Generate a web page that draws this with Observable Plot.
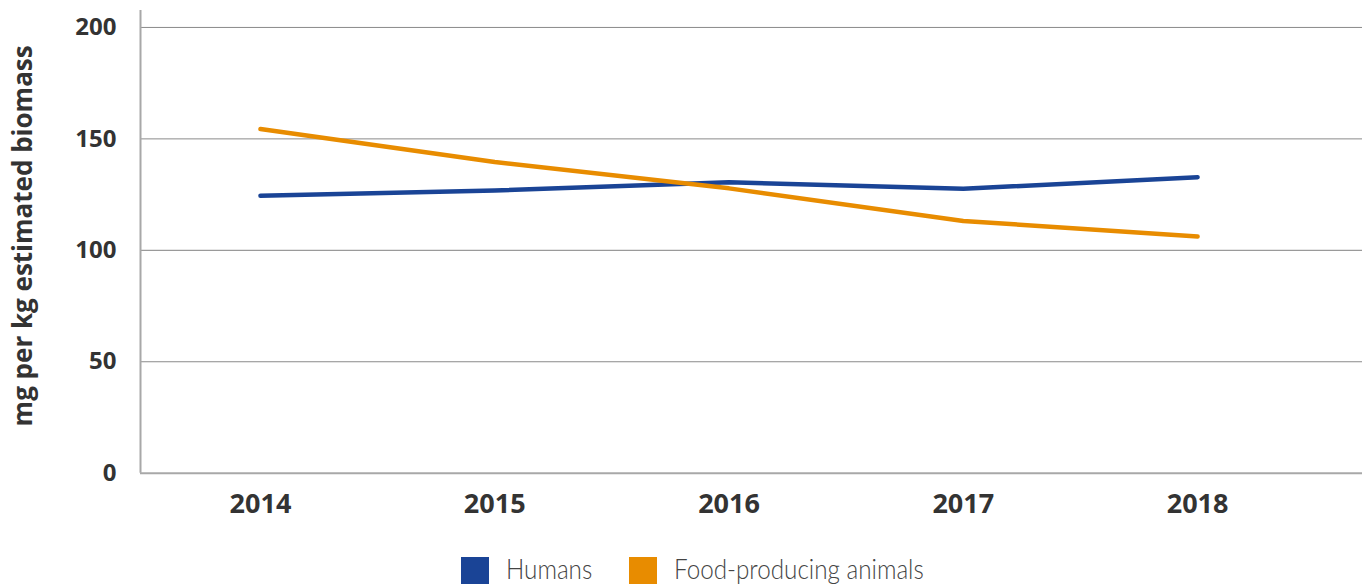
<!DOCTYPE html>
<html>
<head>
<meta charset="utf-8">
<script src="https://cdn.jsdelivr.net/npm/d3@7"></script>
<script src="https://cdn.jsdelivr.net/npm/@observablehq/plot@0.6"></script>
<style>
  html, body { margin: 0; padding: 0; background: #fff; overflow: hidden; }
  #chart svg { display: block; }
  #legend { position: absolute; left: 0; top: 557px; width: 1368px; height: 28px;
    font-family: Lato, sans-serif; font-weight: 300; font-size: 28px; color: #444; line-height: 28px; }
  .sw { position: absolute; top: 0; width: 28px; height: 28px; }
  .lab { position: absolute; top: -3px; white-space: nowrap; transform: scaleX(0.865); transform-origin: left center; }
</style>
</head>
<body>
<div id="chart"></div>
<div id="legend"></div>
<script>
const years = [2014, 2015, 2016, 2017, 2018];
const seriesNames = ["Humans", "Food-producing animals"];
const humans = [124.5, 126.8, 130.5, 127.6, 132.8];
const animals = [154.4, 139.6, 127.8, 113.2, 106.2];
const colors = ["#1a4496", "#e88c00"];
const yTicks = [0, 50, 100, 150, 200];
const yLabel = "mg per kg estimated biomass";

const rows = [];
years.forEach((yr, i) => {
  rows.push({year: yr, value: humans[i], series: seriesNames[0]});
  rows.push({year: yr, value: animals[i], series: seriesNames[1]});
});

const xDomain = [2013.488, 2018.704];
const chart = Plot.plot({
  width: 1368,
  height: 530,
  marginLeft: 140,
  marginRight: 6,
  marginTop: 10,
  marginBottom: 57.3,
  style: { fontFamily: "'Open Sans', sans-serif", fontWeight: 700, color: "#333" },
  x: { type: "linear", domain: xDomain, label: null },
  y: { domain: [0, 207.6], label: null },
  color: { domain: seriesNames, range: colors },
  marks: [
    Plot.ruleY(yTicks.filter(d => d > 0 && d !== 100), { stroke: "#8a8a8a", strokeWidth: 1 }),
    Plot.ruleY([100], { stroke: "#9a9a9a", strokeWidth: 1.2 }),
    Plot.ruleY([0], { stroke: "#a8a8a8", strokeWidth: 2 }),
    Plot.ruleX([xDomain[0]], { stroke: "#a8a8a8", strokeWidth: 2 }),
    Plot.axisX({ ticks: years, tickFormat: d => String(d), tickSize: 0, tickPadding: 21, fontSize: 27, fontWeight: 700, label: null }),
    Plot.axisY({ ticks: yTicks, tickSize: 0, tickPadding: 24, fontSize: 24, fontWeight: 700, label: null }),
    Plot.text([yLabel], { text: d => d, frameAnchor: "left", textAnchor: "middle", rotate: -90, dx: -117, dy: -6, fontSize: 26, fontWeight: 700, fill: "#333", lineAnchor: "middle" }),
    Plot.line(rows, { x: "year", y: "value", z: "series", stroke: "series", strokeWidth: 4.5, strokeLinecap: "round", strokeLinejoin: "round" })
  ]
});
document.getElementById("chart").appendChild(chart);

const legend = document.getElementById("legend");
const swatchLeft = [461, 629];
const labelLeft = [506, 674];
seriesNames.forEach((name, i) => {
  const sw = document.createElement("div");
  sw.className = "sw";
  sw.style.left = swatchLeft[i] + "px";
  sw.style.background = colors[i];
  const label = document.createElement("span");
  label.className = "lab";
  label.style.left = labelLeft[i] + "px";
  label.textContent = name;
  legend.appendChild(sw);
  legend.appendChild(label);
});
</script>
</body>
</html>
